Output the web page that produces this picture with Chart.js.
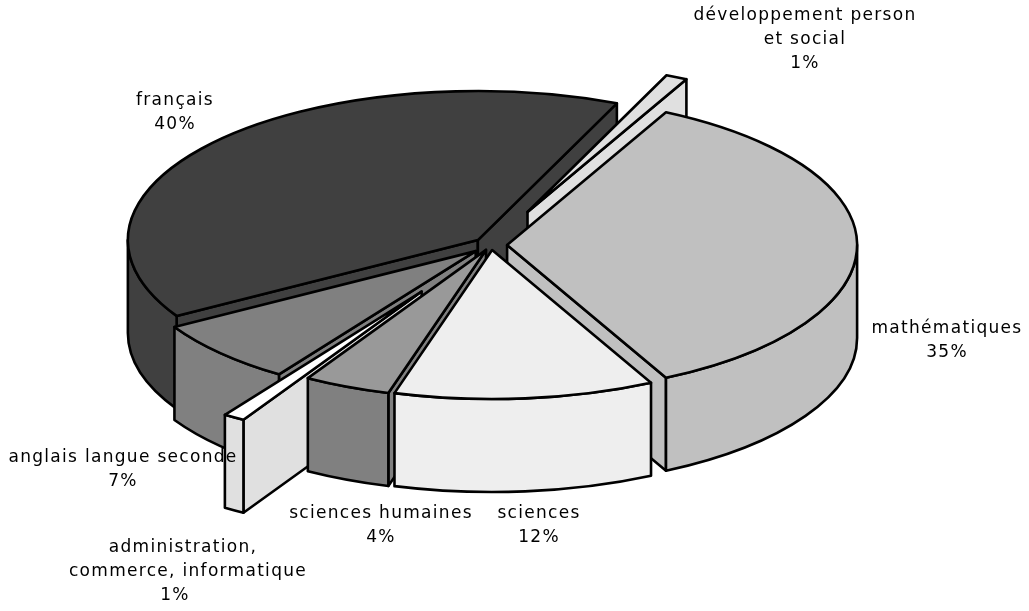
<!DOCTYPE html>
<html lang="fr">
<head>
<meta charset="utf-8">
<title>Répartition par domaine</title>
<style>
  html, body { margin: 0; padding: 0; background: #fff; }
  canvas { display: block; }
</style>
<script src="https://cdn.jsdelivr.net/npm/chart.js@4"></script>
</head>
<body>
<canvas id="pie" width="1029" height="611"></canvas>
<script>
// Clockwise from the first slice
const domains = ['français', 'développement person et social', 'mathématiques', 'sciences',
                 'sciences humaines', 'administration, commerce, informatique', 'anglais langue seconde'];
const shares = [40, 1, 35, 12, 4, 1, 7];
const topShades = ['#404040', '#e0e0e0', '#c0c0c0', '#eeeeee', '#999999', '#ffffff', '#808080'];
const wallShades = ['#404040', '#e0e0e0', '#c0c0c0', '#eeeeee', '#808080', '#e0e0e0', '#808080'];
const explodeShare = [0.05, 0.245, 0.046, 0.034, 0.036, 0.37, 0.06];
// Back slices first, so the nearer ones overlap them
const paintOrder = [0, 1, 2, 6, 5, 4, 3];

const captions = [
  { lines: ['développement person', 'et social', '1%'], x: [805, 805, 805], y: 16 },
  { lines: ['français', '40%'], x: [175, 175], y: 101 },
  { lines: ['mathématiques', '35%'], x: [947, 947], y: 329 },
  { lines: ['anglais langue seconde', '7%'], x: [123, 123], y: 458 },
  { lines: ['sciences humaines', '4%'], x: [381, 381], y: 514 },
  { lines: ['sciences', '12%'], x: [539, 539], y: 514 },
  { lines: ['administration,', 'commerce, informatique', '1%'], x: [183, 188, 175], y: 548 }
];

const RX = 350, RY = 149, DEPTH = 93;
const TAU = Math.PI * 2;

function point(c, a, dy) {
  return [c.x + Math.cos(a) * RX, c.y + Math.sin(a) * RY + (dy || 0)];
}

function paintPath(ctx, fill, build) {
  ctx.beginPath();
  build();
  ctx.closePath();
  ctx.fillStyle = fill;
  ctx.fill();
  ctx.stroke();
}

function paintCut(ctx, c, a, fill) {
  const p = point(c, a);
  paintPath(ctx, fill, () => {
    ctx.moveTo(c.x, c.y);
    ctx.lineTo(p[0], p[1]);
    ctx.lineTo(p[0], p[1] + DEPTH);
    ctx.lineTo(c.x, c.y + DEPTH);
  });
}

function paintRim(ctx, c, start, end, fill) {
  // Only the stretch of rim on the near half of the ellipse shows
  let s = start % TAU, e = end % TAU;
  if (s < 0) s += TAU;
  e = s + (end - start);
  const ranges = [[0, Math.PI], [TAU, TAU + Math.PI]];
  ranges.forEach(r => {
    const a = Math.max(s, r[0]), b = Math.min(e, r[1]);
    if (b <= a) return;
    paintPath(ctx, fill, () => {
      ctx.ellipse(c.x, c.y, RX, RY, 0, a, b, false);
      ctx.ellipse(c.x, c.y + DEPTH, RX, RY, 0, b, a, true);
    });
  });
}

const tiltedPie = {
  id: 'tiltedPie',
  beforeDatasetDraw(chart, args) {
    const ctx = chart.ctx;
    const arcs = args.meta.data;
    ctx.save();
    ctx.strokeStyle = '#000';
    ctx.lineWidth = 2.6;
    ctx.lineJoin = 'round';
    paintOrder.forEach(i => {
      const arc = arcs[i];
      const { x, y, startAngle, endAngle } = arc.getProps(['x', 'y', 'startAngle', 'endAngle'], true);
      const mid = (startAngle + endAngle) / 2;
      const push = arc.options.offset / 100;
      const c = { x: x + Math.cos(mid) * RX * push, y: y + Math.sin(mid) * RY * push };
      const wall = wallShades[i];
      if (Math.cos(startAngle) < 0) paintCut(ctx, c, startAngle, wall);
      if (Math.cos(endAngle) > 0) paintCut(ctx, c, endAngle, wall);
      paintRim(ctx, c, startAngle, endAngle, wall);
      paintPath(ctx, arc.options.backgroundColor, () => {
        ctx.moveTo(c.x, c.y);
        ctx.ellipse(c.x, c.y, RX, RY, 0, startAngle, endAngle, false);
      });
    });
    ctx.restore();
    return false;
  }
};

const sliceCaptions = {
  id: 'sliceCaptions',
  afterDraw(chart) {
    const ctx = chart.ctx;
    ctx.save();
    ctx.font = '17px "DejaVu Sans"';
    ctx.letterSpacing = '1.3px';
    ctx.fillStyle = '#000';
    ctx.textAlign = 'center';
    ctx.textBaseline = 'middle';
    captions.forEach(cap => {
      cap.lines.forEach((line, n) => ctx.fillText(line, cap.x[n], cap.y + n * 24));
    });
    ctx.restore();
  }
};

new Chart(document.getElementById('pie'), {
  type: 'pie',
  data: {
    labels: domains,
    datasets: [{
      data: shares,
      backgroundColor: topShades,
      offset: explodeShare.map(f => f * 100)
    }]
  },
  options: {
    responsive: false,
    animation: false,
    rotation: 239.4,
    layout: { padding: { left: 0, right: 47, top: 0, bottom: 121 } },
    plugins: { legend: { display: false }, tooltip: { enabled: false } }
  },
  plugins: [tiltedPie, sliceCaptions]
});
</script>
</body>
</html>
